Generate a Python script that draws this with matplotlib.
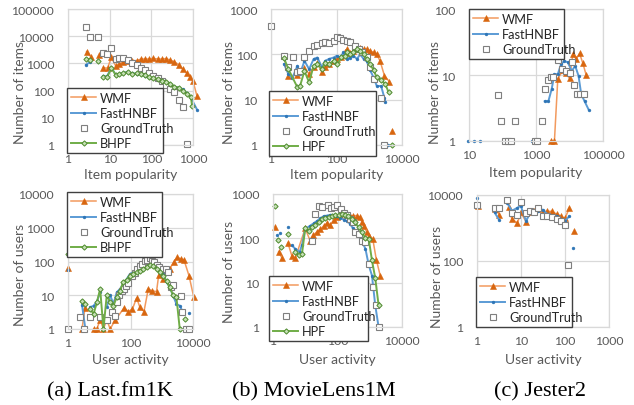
import numpy as np
import matplotlib
matplotlib.use("Agg")
import matplotlib.pyplot as plt
from matplotlib.ticker import NullLocator

nan = np.nan

# ---------------- (a) Last.fm1K : items ----------------
A1_WMF_X = [2.8, 3.5, nan, 5.4, nan, 7.1, 8.9, 11, 14, 17, 21, 27, 34, 45, 56, 71, 89, 112, 141, 178, 224, 282, 355, 450, 560, 700, 850, 1000, 1250]
A1_WMF_Y = [2700, 1770, nan, 2100, nan, 680, 680, 1670, 800, 950, 1100, 1200, 1260, 1260, 1450, 1450, 1450, 1530, 1450, 1450, 1500, 1330, 1150, 900, 620, 450, 320, 225, 62]
A1_FAST_X = [2.7, 3.3, nan, 5.3, nan, 7, 8.7, 11, 14, 17, 21, 27, 34, 45, 56, 71, 89, 112, 141, 178, 224, 282, 355, 450, 560, 720, 890, 1250]
A1_FAST_Y = [880, 1100, nan, 1250, nan, 330, 340, 700, 380, 400, 440, 500, 430, 420, 400, 350, 320, 280, 260, 230, 200, 180, 140, 130, 110, 80, 55, 20]
A1_GT_X = [2.7, 3.3, 5.3, 7, 8.7, 11, 14, 17, 21, 27, 34, 45, 56, 71, 89, 112, 141, 178, 224, 282, 355, 450, 560, 720]
A1_GT_Y = [21000, 9500, 9000, 2500, 2200, 3700, 1450, 1600, 1530, 1350, 1000, 850, 700, 550, 450, 350, 280, 230, 160, 110, 90, 45, 25, 1.1]
A1_HPF_X = [2.7, 3.3, nan, 5.3, nan, 7, 8.7, 11, 14, 17, 21, 27, 34, 45, 56, 71, 89, 112, 141, 178, 224, 282, 355, 450, 560, 720, 890, 950]
A1_HPF_Y = [1500, 1350, nan, 1200, nan, 320, 320, 650, 380, 400, 430, 480, 400, 430, 410, 360, 310, 290, 270, 230, 210, 180, 140, 130, 100, 75, 60, 27]

# ---------------- (b) MovieLens1M : items ----------------
B1_WMF_X = [2.5, 3.4, 6.4, 10.5, 14.6, 20, 26, 36, 45, 59, 81, 107, 140, 177, 207, 260, 330, 420, 530, 670, 840, 1060, 1350, 1700, 2160, 2900, 4100, nan, 5000]
B1_WMF_Y = [90, 33, 35, 49, 37, 52, 63, 40, 53, 62, 70, 79, 86, 110, 130, 105, 120, 140, 140, 130, 130, 120, 110, 100, 70, 34, 25, nan, 2]
B1_FAST_X = [2.5, 3.4, 4.5, 6.4, 7.7, 10.5, 14.6, 20, 26, 36, 45, 59, 81, 102, 130, 163, 207, 260, 330, 420, 530, 670, 840, 1060, 1350, 1700, 2300, 2900, 3100, nan, 3700]
B1_FAST_Y = [61, 37, 30, 56, 37, 72, 47, 79, 85, 52, 72, 79, 85, 93, 86, 110, 79, 85, 93, 79, 100, 79, 70, 45, 31, 20, 20, 11, 9, nan, 1]
B1_GT_X = [1, 2.5, 3.4, 4.8, 6.1, 7.7, 10.5, 14.6, 20, 26, 36, 45, 57, 81, 102, 130, 163, 207, 260, 373, 470, 595, 840, 1060, 1400, 2260, 2900]
B1_GT_Y = [430, 90, 52, 86, 40, 43, 88, 120, 155, 160, 175, 183, 178, 200, 237, 225, 210, 200, 183, 155, 130, 110, 86, 52, 28, 11, 1]
B1_HPF_X = [2.5, 3.4, 6.4, 7.7, 10.5, 14.6, 20, 26, 36, 45, 59, 81, 107, 140, 177, 207, 260, 330, 420, 530, 670, 840, 1060, 1350, 1700, 2300, 3100, 3900, nan, 4900]
B1_HPF_Y = [82, 47, 18.7, 20, 43, 24, 56, 61, 47, 66, 61, 72, 61, 86, 93, 110, 100, 110, 130, 120, 100, 80, 61, 45, 31, 27, 22, 14.5, nan, 1]

# ---------------- (c) Jester2 : items ----------------
C1_WMF_X = [2820, 3550, 4470, 6300, 7940, 10000, 12600, 15800, 20000, 25100, 31600]
C1_WMF_Y = [1, 1, 8.7, 11.8, 10.7, 8.9, 20.8, 17.4, 21.2, 15, 9.9]
C1_FAST_X = [9.3, nan, 14, nan, 22, nan, 740, nan, 1820, 2340, 2950, 3550, 4470, 5620, 7080, 8910, 11700, 14800, 18600, 22400, 28200, 37100]
C1_FAST_Y = [1, nan, 1, nan, 1, nan, 1, nan, 4, 4, 6.2, 10.3, 10.3, 14.6, 16.4, 15.5, 11.5, 13.8, 9.7, 5.1, 4, 3]
C1_GT_X = [74, 93, 117, 148, 174, 232, 930, 1100, 1480, 1860, 2240, 2750, 3300, 4470, 5900, 7760, 10000, 11700, 14100, 16600, 20000, 26300]
C1_GT_Y = [5, 2, 1, 1, 1, 2, 1, 1, 2, 6.2, 8.3, 9.4, 9.4, 16.8, 12.3, 11.5, 10.9, 15.5, 7, 5.1, 5.1, 5.1]

# ---------------- (a) Last.fm1K : users ----------------
A2_WMF_X = [1, nan, 2.8, 3.5, nan, 6.6, 8.4, 10.7, 13.6, 17.4, 22.3, 32, 62, 85, 115, 157, 200, 270, 370, 470, 680, 800, 1100, 1490, 1800, 2430, 3160, 4230, 5120, 7450, 10600]
A2_WMF_Y = [64, nan, 1, 4.2, nan, 1, 1, 1.9, 1, 1.9, 1, 1.8, 4.2, 3.3, 3.9, 8.3, 4.4, 3.3, 15.3, 13.7, 12.8, 40, 30, 57, 60, 98, 133, 118, 113, 38, 8.7]
A2_FAST_X = [1, nan, 2.8, 3.6, nan, 5.1, 6.6, 8.4, 10.7, nan, 17.4, 22.3, 28.5, 36.3, 46, 59, 75, 96, 123, 157, 200, 256, 327, 418, 533, 680, 870, 1110, 1420, 1810, 2310, 2950, 3770, 4800, nan, 7400]
A2_FAST_Y = [57, nan, 5.3, 1, nan, 4.4, 4.9, 6.5, 12.2, nan, 4.4, 10.1, 5.5, 12.2, 15.3, 21.6, 30, 42.6, 48, 53.5, 67, 79, 90, 98, 90, 75, 60, 42.6, 25, 17, 9.7, 5.5, 4.9, 3.1, nan, 3]
A2_GT_X = [1, 2.5, 3.2, 5.1, 10.7, 17.4, 25, 32, 38, 44, 52, 62, 72, 85, 108, 137, 162, 200, 236, 287, 340, 418, 470, 560, 680, 820, 1110, 1320, 1600, 2040, 2310, 4230, 4550, 6100, 7400]
A2_GT_Y = [1, 2.2, 1, 2.2, 2.2, 1.9, 3.3, 2.5, 6.2, 10.2, 13.7, 15.3, 19.2, 23, 36.5, 45.6, 60, 75, 84, 106, 113, 124, 106, 95, 79, 67, 60, 60, 50, 17, 20, 9.7, 3.3, 1, 1]
A2_HPF_X = [1, nan, 2.9, 3.6, nan, 5.1, 6.6, 8.4, 10.7, 13.6, 17.4, 22.3, 28.5, 36.3, 46, 59, 75, 96, 123, 157, 200, 256, 327, 418, 533, 680, 870, 1110, 1420, 1810, 2310, 2950, 3770, nan, 5360]
A2_HPF_Y = [167, nan, 6.9, 5.5, nan, 3.9, 2.8, 6.2, 15.3, 1, 10.1, 6.2, 4.9, 8.7, 13.7, 25, 29, 36.5, 42.6, 48, 53.5, 60, 70, 79, 72, 60, 48, 36.5, 27, 17, 10.1, 8.7, 1, nan, 2]

# ---------------- (b) MovieLens1M : users ----------------
B2_WMF_X = [1.13, nan, 1.5, 1.9, nan, 2.9, 3.9, 4.9, 10, 14.4, 18, 23, 29, 37, 47, 60, 76, 96, 122, 155, 196, 250, 312, 400, 490, 575, 675, 800, 980, 1240, 1600, 2130]
B2_WMF_Y = [183, nan, 49, 36, nan, 78, 39, 36, 168, 85, 120, 140, 160, 190, 220, 200, 260, 300, 330, 375, 350, 320, 325, 325, 300, 230, 186, 140, 115, 97, 33, 14]
B2_FAST_X = [1.33, nan, 1.7, nan, 2.85, nan, 3.9, 4.9, 6.7, 7.9, 10, 14.4, 18.2, 23, 29, 37, 47, 60, 76, 96, 122, 155, 196, 250, 300, 370, 450, 575, 735, 930, 1170, 1480, 1880]
B2_FAST_Y = [120, nan, 130, nan, 177, nan, 69, 58, 49, 71, 163, 194, 218, 246, 281, 316, 326, 339, 339, 316, 290, 265, 245, 210, 168, 142, 115, 85, 58, 25, 14.5, 3.1, 1]
B2_GT_X = [16.2, 20.5, 26, 33, 49.5, 63, 80, 96, 128, 155, 196, 250, 300, 360, 450, 575, 735, 960, 1240, 1560, 1900]
B2_GT_Y = [89, 354, 530, 500, 570, 480, 500, 570, 450, 375, 340, 280, 230, 137, 126, 89, 81, 26.6, 7.9, 3.1, 1]
B2_HPF_X = [1.13, nan, 1.43, nan, 1.8, nan, 2.85, nan, 4.9, 6.2, 7.9, 10, 12.7, 16.2, 20.5, 26, 33, 42, 53, 67, 85, 108, 137, 170, 218, 275, 350, 450, 575, 735, 930, 1170, 1480, 1880]
B2_HPF_Y = [530, nan, 92, nan, 63, nan, 125, nan, 49, 42, 44, 168, 150, 177, 200, 230, 275, 281, 300, 326, 339, 339, 354, 339, 316, 275, 230, 177, 137, 100, 97, 32, 12.7, 3.1]

# ---------------- (c) Jester2 : users ----------------
C2_WMF_X = [1.03, nan, 2.6, 3.2, nan, 5.2, 6.2, 8.3, 9.9, 13, 16, 20, 24.8, 31, 39.5, 49.6, 64.5, 80, 100, 125, nan, 158]
C2_WMF_Y = [4700, nan, 3750, 2560, nan, 4300, 1880, 1410, 2970, 1550, 3120, 3200, 3750, 3120, 3200, 3200, 2640, 2250, 1950, 4000, nan, 830]
C2_FAST_X = [1, nan, 2.5, 3.2, nan, 4.9, 6.2, 8, 9.9, 13, 16, 20, 24.8, 31, 39.5, 49.6, 64.5, 80, 100, 125, nan, 153]
C2_FAST_Y = [8100, nan, 2970, 1740, nan, 5700, 3330, 4000, 4700, 1600, 2850, 3000, 3330, 3600, 2640, 2350, 2250, 1880, 1660, 2250, nan, 240]
C2_GT_X = [1, 2.6, 3.2, 4.9, 6.2, 8, 9.9, 13, 16, 20, 24.8, 31, 39.5, 49.6, 64.5, 80, 100, 118]
C2_GT_Y = [5100, 4000, 4000, 7200, 2850, 2550, 6000, 2770, 3330, 3100, 3950, 2250, 2250, 2100, 1880, 1660, 1230, 75]

CAPTIONS = ["(a) Last.fm1K", "(b) MovieLens1M", "(c) Jester2"]

# ---------------- styling ----------------
FONT = "Lato"
GRID = "#D9D9D9"
TXT = "#595959"
W, H = 634, 406

STY = {
    "WMF": dict(color="#F29A5E", lw=1.1, marker="^", ms=3.8, mfc="#D8660F", mec="#D8660F", mew=0.4),
    "FastHNBF": dict(color="#5B9BD5", lw=1.4, marker="o", ms=2.1, mfc="#2E75B6", mec="#2E75B6", mew=0.3),
    "GroundTruth": dict(color="none", lw=0, marker="s", ms=3.7, mfc="white", mec="#7F7F7F", mew=0.8),
    "HPF": dict(color="#70AD47", lw=1.4, marker="D", ms=2.7, mfc="#C5E0B4", mec="#4E8A2E", mew=0.7),
}

fig = plt.figure(figsize=(W / 100, H / 100), dpi=100)


def rect(x0, y0, x1, y1):
    return [x0 / W, 1 - y1 / H, (x1 - x0) / W, (y1 - y0) / H]


def panel(box, series, xlim, ylim, xticks, yticks, xlabel, ylabel, leg_box, ylab_xy, xlab_y):
    x0, y0, x1, y1 = box
    ax = fig.add_axes(rect(*box))
    ax.set_xscale("log")
    ax.set_yscale("log")
    handles = []
    for name, label, x, y in series:
        st = dict(STY[name])
        ls = "none" if name == "GroundTruth" else "-"
        h, = ax.plot(x, y, linestyle=ls, clip_on=False, label=label, **st)
        handles.append(h)
    ax.set_xlim(*xlim)
    ax.set_ylim(*ylim)
    ax.set_xticks(xticks)
    ax.set_xticklabels([str(v) for v in xticks])
    ax.set_yticks(yticks)
    ax.set_yticklabels([str(v) for v in yticks])
    ax.xaxis.set_minor_locator(NullLocator())
    ax.yaxis.set_minor_locator(NullLocator())
    ax.grid(True, color=GRID, lw=0.9)
    ax.set_axisbelow(True)
    for s in ax.spines.values():
        s.set_color(GRID)
        s.set_linewidth(0.9)
    ax.tick_params(axis="x", length=0, labelsize=8.8, labelcolor=TXT, pad=6)
    ax.tick_params(axis="y", length=0, labelsize=8.8, labelcolor=TXT, pad=10)
    for t in ax.get_xticklabels() + ax.get_yticklabels():
        t.set_fontfamily(FONT)
    ax.set_xlabel(xlabel, fontsize=10, color=TXT, family=FONT)
    ax.set_ylabel(ylabel, fontsize=10, color=TXT, family=FONT)
    # label positions (pixel -> axes coords)
    lxp, lyp = ylab_xy
    ax.yaxis.label.set_va("center")
    ax.yaxis.set_label_coords((lxp - x0) / (x1 - x0), (y1 - lyp) / (y1 - y0))
    ax.xaxis.label.set_va("center")
    ax.xaxis.set_label_coords(0.5, (y1 - xlab_y) / (y1 - y0))
    lx0, ly0, lx1, ly1 = leg_box
    leg = ax.legend(handles=handles, loc="upper left",
                    bbox_to_anchor=(lx0 / W, 1 - ly1 / H, (lx1 - lx0) / W, (ly1 - ly0) / H),
                    bbox_transform=fig.transFigure, mode="expand", borderaxespad=0,
                    frameon=True, fancybox=False, framealpha=1, edgecolor="#404040",
                    borderpad=0.3, handlelength=2.0, handletextpad=0.3, labelspacing=0.25,
                    prop={"family": FONT, "size": 9.2})
    leg.get_frame().set_linewidth(1.0)
    for t in leg.get_texts():
        t.set_color("#262626")
    leg.set_zorder(20)
    return ax


panel((68, 10, 193, 146),
      [("WMF", "WMF", A1_WMF_X, A1_WMF_Y), ("FastHNBF", "FastHNBF", A1_FAST_X, A1_FAST_Y),
       ("GroundTruth", "GroundTruth", A1_GT_X, A1_GT_Y), ("HPF", "BHPF", A1_HPF_X, A1_HPF_Y)],
      (1, 1000), (1, 100000), [1, 10, 100, 1000], [1, 10, 100, 1000, 10000, 100000],
      "Item popularity", "Number of items", (67, 89, 163, 151), (20, 93), 175)

panel((271, 10, 402, 146),
      [("WMF", "WMF", B1_WMF_X, B1_WMF_Y), ("FastHNBF", "FastHNBF", B1_FAST_X, B1_FAST_Y),
       ("GroundTruth", "GroundTruth", B1_GT_X, B1_GT_Y), ("HPF", "HPF", B1_HPF_X, B1_HPF_Y)],
      (1, 10000), (1, 1000), [1, 100, 10000], [1, 10, 100, 1000],
      "Item popularity", "Number of items", (269, 92, 376, 149), (229, 92), 175)

panel((469, 10, 603, 142),
      [("WMF", "WMF", C1_WMF_X, C1_WMF_Y), ("FastHNBF", "FastHNBF", C1_FAST_X, C1_FAST_Y),
       ("GroundTruth", "GroundTruth", C1_GT_X, C1_GT_Y)],
      (10, 100000), (1, 100), [10, 1000, 100000], [1, 10, 100],
      "Item popularity", "Number of items", (469, 10, 564, 58), (435, 93), 173)

panel((68, 195, 193, 330),
      [("WMF", "WMF", A2_WMF_X, A2_WMF_Y), ("FastHNBF", "FastHNBF", A2_FAST_X, A2_FAST_Y),
       ("GroundTruth", "GroundTruth", A2_GT_X, A2_GT_Y), ("HPF", "BHPF", A2_HPF_X, A2_HPF_Y)],
      (1, 10000), (1, 10000), [1, 100, 10000], [1, 10, 100, 1000, 10000],
      "User activity", "Number of users", (67, 193, 162, 255), (20, 275), 360)

panel((273, 195, 402, 328),
      [("WMF", "WMF", B2_WMF_X, B2_WMF_Y), ("FastHNBF", "FastHNBF", B2_FAST_X, B2_FAST_Y),
       ("GroundTruth", "GroundTruth", B2_GT_X, B2_GT_Y), ("HPF", "HPF", B2_HPF_X, B2_HPF_Y)],
      (1, 10000), (1, 1000), [1, 100, 10000], [1, 10, 100, 1000],
      "User activity", "Number of users", (269, 277, 368, 335), (229, 272), 360)

panel((477, 196, 609, 328),
      [("WMF", "WMF", C2_WMF_X, C2_WMF_Y), ("FastHNBF", "FastHNBF", C2_FAST_X, C2_FAST_Y),
       ("GroundTruth", "GroundTruth", C2_GT_X, C2_GT_Y)],
      (1, 1000), (1, 10000), [1, 10, 100, 1000], [1, 100, 10000],
      "User activity", "Number of users", (476, 278, 572, 329), (437, 277), 360)

for cx, cap in zip([110, 314, 540], CAPTIONS):
    fig.text(cx / W, 1 - 392 / H, cap, ha="center", va="center",
             family="Liberation Serif", fontsize=16, color="black")

fig.savefig("out.png", dpi=100)
